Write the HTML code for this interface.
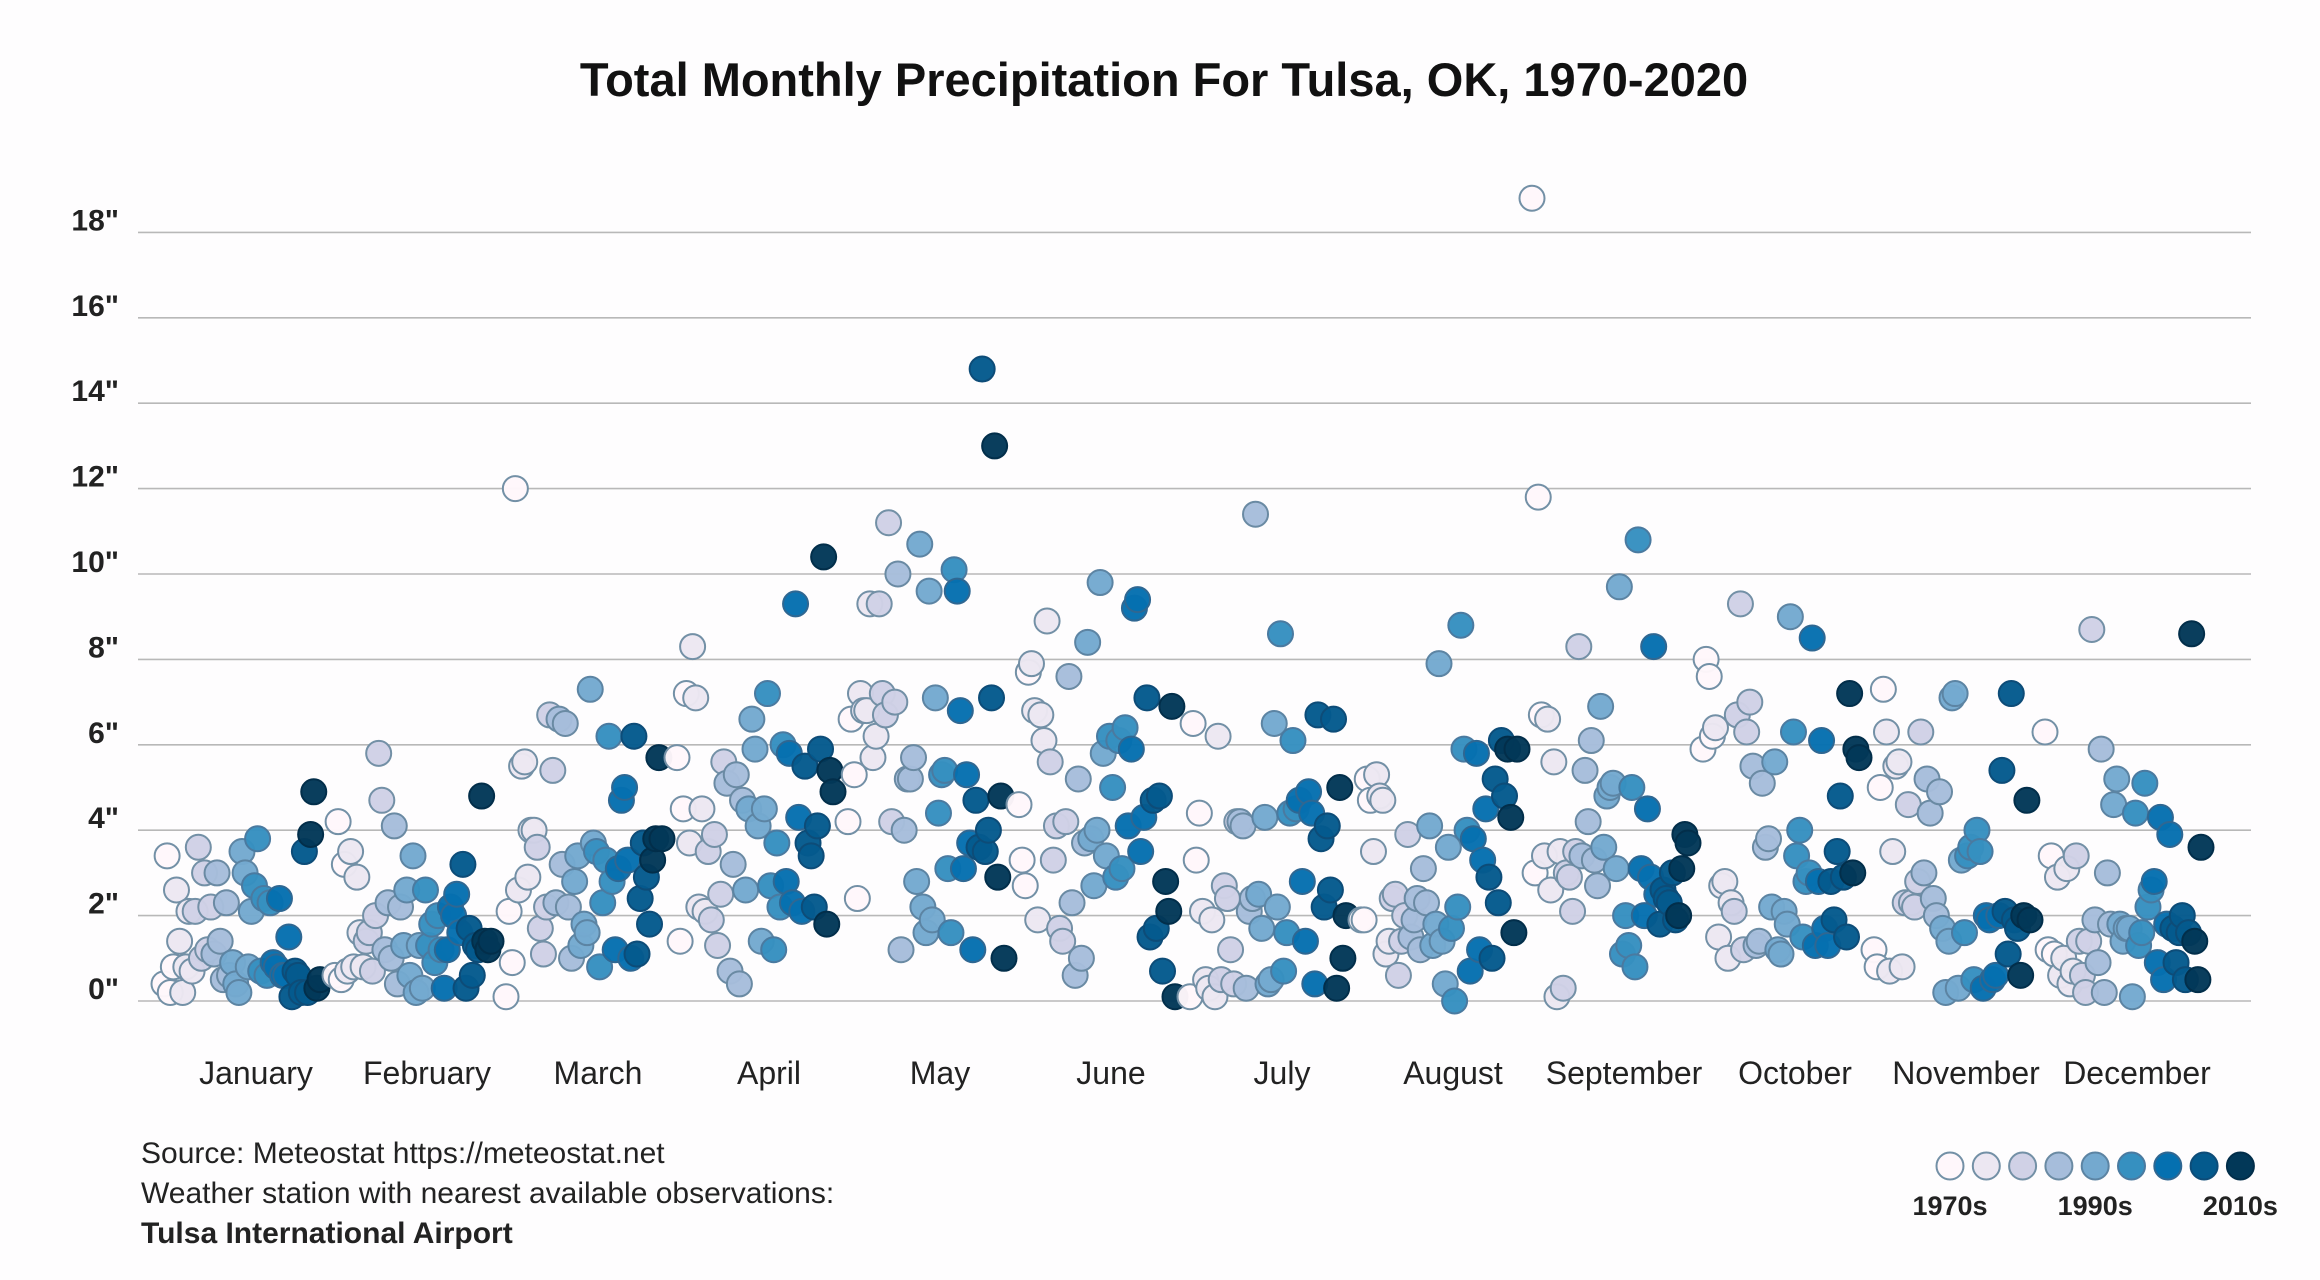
<!DOCTYPE html>
<html><head><meta charset="utf-8"><style>
html,body{margin:0;padding:0;background:#fff;}
svg{display:block;font-family:"Liberation Sans",sans-serif;}
</style></head><body>
<svg id="chart" width="2320" height="1280" viewBox="0 0 2320 1280" xmlns="http://www.w3.org/2000/svg">
<rect width="2320" height="1280" fill="#fefdfe"/>
<text x="1164" y="96" text-anchor="middle" font-size="47" font-weight="bold" fill="#111">Total Monthly Precipitation For Tulsa, OK, 1970-2020</text>
<g id="grid"></g>
<g id="yaxis"></g>
<g id="xaxis"></g>
<g id="dots"></g>
<g font-size="30" fill="#222">
<text x="141" y="1163">Source: Meteostat https://meteostat.net</text>
<text x="141" y="1203">Weather station with nearest available observations:</text>
<text x="141" y="1243" font-weight="bold">Tulsa International Airport</text>
</g>
<g id="legend"></g>
</svg>
<script>
const months=["January","February","March","April","May","June","July","August","September","October","November","December"];
const yTicks=[0,2,4,6,8,10,12,14,16,18];
const legendLabels=["1970s","","","","1990s","","","","2010s"];
const jan=[0.4,3.4,0.2,0.8,2.6,1.4,0.2,0.8,2.1,0.7,2.1,3.6,1.0,3.0,1.2,2.2,1.1,3.0,1.4,0.5,2.3,0.6,0.9,0.4,0.2,3.5,3.0,0.8,2.1,2.7,3.8,0.7,2.4,0.6,2.3,0.9,0.8,2.4,0.6,0.6,1.5,0.1,0.7,0.6,0.2,3.5,0.2,3.9,4.9,0.3,0.5];
const feb=[0.6,4.2,0.5,3.2,0.7,3.5,0.8,2.9,1.6,0.8,1.4,1.6,0.7,2.0,5.8,4.7,1.2,2.3,1.0,4.1,0.4,2.2,1.3,2.6,0.6,3.4,0.2,1.3,0.3,2.6,1.3,1.8,0.9,2.0,1.2,0.3,1.2,2.2,2.0,2.5,1.6,3.2,0.3,1.7,0.6,1.3,1.2,4.8,1.4,1.2,1.4];
const mar=[0.1,2.1,0.9,12.0,2.6,5.5,5.6,2.9,4.0,4.0,3.6,1.7,1.1,2.2,6.7,5.4,2.3,6.6,3.2,6.5,2.2,1.0,2.8,3.4,1.3,1.8,1.6,7.3,3.7,3.5,0.8,2.3,3.3,6.2,2.8,1.2,3.1,4.7,5.0,3.3,1.0,6.2,1.1,2.4,3.7,2.9,1.8,3.3,3.8,5.7,3.8];
const apr=[5.7,1.4,4.5,7.2,3.7,8.3,7.1,2.2,4.5,2.1,3.5,1.9,3.9,1.3,2.5,5.6,5.1,0.7,3.2,5.3,0.4,4.7,2.6,4.5,6.6,5.9,4.1,1.4,4.5,7.2,2.7,1.2,3.7,2.2,6.0,2.8,5.8,2.3,9.3,4.3,2.1,5.5,3.7,3.4,2.2,4.1,5.9,10.4,1.8,5.4,4.9];
const may=[4.2,6.6,5.3,2.4,7.2,6.8,6.8,9.3,5.7,6.2,9.3,7.2,6.7,11.2,4.2,7.0,10.0,1.2,4.0,5.2,5.2,5.7,2.8,10.7,2.2,1.6,9.6,1.9,7.1,4.4,5.3,5.4,3.1,1.6,10.1,9.6,6.8,3.1,5.3,3.7,1.2,4.7,3.6,14.8,3.5,4.0,7.1,13.0,2.9,4.8,1.0];
const jun=[4.6,3.3,2.7,7.7,7.9,6.8,1.9,6.7,6.1,8.9,5.6,3.3,4.1,1.7,1.4,4.2,7.6,2.3,0.6,5.2,1.0,3.7,8.4,3.8,2.7,4.0,9.8,5.8,3.4,6.2,5.0,2.9,6.1,3.1,6.4,4.1,5.9,9.2,9.4,3.5,4.3,7.1,1.5,4.7,1.7,4.8,0.7,2.8,2.1,6.9,0.1];
const jul=[0.1,6.5,3.3,4.4,2.1,0.5,0.3,1.9,0.1,6.2,0.5,2.7,2.4,1.2,0.4,4.2,4.2,4.1,0.3,2.1,2.4,11.4,2.5,1.7,4.3,0.4,0.5,6.5,2.2,8.6,0.7,1.6,4.4,6.1,4.5,4.7,2.8,1.4,4.9,4.4,0.4,6.7,3.8,2.2,4.1,2.6,6.6,0.3,5.0,1.0,2.0];
const aug=[1.9,1.9,5.2,4.7,3.5,5.3,4.8,4.7,1.1,1.4,2.4,2.5,0.6,1.4,2.0,3.9,1.5,1.9,2.4,1.2,3.1,2.3,4.1,1.3,1.8,7.9,1.4,0.4,3.6,1.7,0.0,2.2,8.8,5.9,4.0,0.7,3.8,5.8,1.2,3.3,4.5,2.9,1.0,5.2,2.3,6.1,4.8,5.9,4.3,1.6,5.9];
const sep=[18.8,3.0,11.8,6.7,3.4,6.6,2.6,5.6,0.1,3.5,0.3,3.0,2.9,2.1,3.5,8.3,3.4,5.4,4.2,6.1,3.3,2.7,6.9,3.6,4.8,5.0,5.1,3.1,9.7,1.1,2.0,1.3,5.0,0.8,10.8,3.1,2.0,4.5,2.9,8.3,2.5,1.8,2.6,2.4,2.3,3.0,1.9,2.0,3.1,3.9,3.7];
const oct=[5.9,8.0,7.6,6.2,6.4,1.5,2.7,2.8,1.0,2.3,2.1,6.7,9.3,1.2,6.3,7.0,5.5,1.3,1.4,5.1,3.6,3.8,2.2,5.6,1.2,1.1,2.1,1.8,9.0,6.3,3.4,4.0,1.5,2.8,3.0,8.5,1.3,2.8,6.1,1.7,1.3,2.8,1.9,3.5,4.8,2.9,1.5,7.2,3.0,5.9,5.7];
const nov=[1.2,0.8,5.0,7.3,6.3,0.7,3.5,5.5,5.6,0.8,2.3,4.6,2.3,2.2,2.8,6.3,3.0,5.2,4.4,2.4,2.0,4.9,1.7,0.2,1.4,7.1,7.2,0.3,3.3,1.6,3.4,3.6,0.5,4.0,3.5,0.3,2.0,1.9,0.5,0.6,2.0,5.4,2.1,1.1,7.2,1.9,1.7,0.6,2.0,4.7,1.9];
const dec=[6.3,1.2,3.4,1.1,2.9,0.6,1.0,3.1,0.4,0.7,3.4,1.4,0.6,0.2,1.4,8.7,1.9,0.9,5.9,0.2,3.0,1.8,4.6,5.2,1.8,1.4,1.7,1.7,0.1,4.4,1.3,1.6,5.1,2.2,2.6,2.8,0.9,4.3,0.5,1.8,3.9,1.7,0.9,1.6,2.0,0.5,1.6,8.6,1.4,0.5,3.6];
const series=[jan,feb,mar,apr,may,jun,jul,aug,sep,oct,nov,dec];
const palette=["#fff7fb","#ece7f2","#d0d1e6","#a6bddb","#74a9cf","#3690c0","#0570b0","#045a8d","#023858"];
const strokes=["#7390a6","#7390a6","#7390a6","#6a8aa3","#5c84a3","#4a7aa0","#2f6792","#0d4c78","#022e4a"];
const NS="http://www.w3.org/2000/svg";
const y=v=>1001-v*42.7;
const xc=m=>256+m*171;
const xp=(m,i)=>xc(m)-92+i*3.12;
const colorIdx=i=>Math.round(i/50*8);
function mk(tag,attrs,parent){const e=document.createElementNS(NS,tag);for(const k in attrs)e.setAttribute(k,attrs[k]);parent.appendChild(e);return e;}
const grid=document.getElementById('grid'),ya=document.getElementById('yaxis'),xa=document.getElementById('xaxis'),dots=document.getElementById('dots'),lg=document.getElementById('legend');
yTicks.forEach(t=>{
 const l=mk('line',{x1:138,x2:2251,y1:y(t),y2:y(t),stroke:'#b8b8b8','stroke-width':1.6},grid);
 
 
 const tx=mk('text',{x:119,y:y(t)-2,'text-anchor':'end','font-size':30,'font-weight':'bold',fill:'#222'},ya);
 tx.textContent=t+'"';
 
 
});
months.forEach((m,k)=>{
 const tx=mk('text',{x:xc(k),y:1084,'text-anchor':'middle','font-size':32,fill:'#222'},xa);
 tx.textContent=m;
 
 
});
series.forEach((arr,m)=>{
 arr.forEach((v,i)=>{
  const c=colorIdx(i);
  const d=mk('circle',{cx:xp(m,i),cy:y(v),r:12.5,fill:palette[c],stroke:strokes[c],'stroke-width':2,'fill-opacity':0.97},dots);
  
  
 });
});
palette.forEach((p,i)=>{
 const cx=1950+i*36.3;
 const c=mk('circle',{cx:cx,cy:1166,r:13.5,fill:p,stroke:strokes[i],'stroke-width':2},lg);
 
 
 if(legendLabels[i]){
  const t=mk('text',{x:cx,y:1215,'text-anchor':'middle','font-size':27,'font-weight':'bold',fill:'#222'},lg);
  t.textContent=legendLabels[i];
  
  
 }
});
</script>
</body></html>
